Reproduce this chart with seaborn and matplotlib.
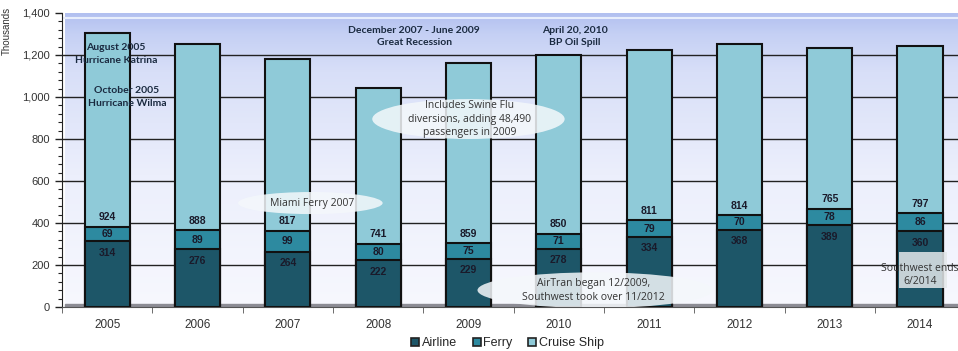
import numpy as np
import pandas as pd
import matplotlib.pyplot as plt
import seaborn as sns
from matplotlib.patches import Ellipse, Rectangle
from matplotlib.colors import LinearSegmentedColormap
from matplotlib.lines import Line2D

years = ["2005", "2006", "2007", "2008", "2009", "2010", "2011", "2012", "2013", "2014"]
airline = [314, 276, 264, 222, 229, 278, 334, 368, 389, 360]
ferry = [69, 89, 99, 80, 75, 71, 79, 70, 78, 86]
cruise = [924, 888, 817, 741, 859, 850, 811, 814, 765, 797]

c_air, c_ferry, c_cruise = "#1d5668", "#2d8aa0", "#8fcad8"

df = pd.DataFrame({"year": years, "airline": airline, "ferry": ferry, "cruise": cruise})
df["af"] = df["airline"] + df["ferry"]
df["total"] = df["af"] + df["cruise"]

sns.set_style("white")
plt.rcParams["font.family"] = ["Liberation Sans", "DejaVu Sans"]

fig = plt.figure(figsize=(9.58, 3.51), dpi=100)
ax = fig.add_axes([62 / 958, 1 - 307 / 351, 1 - 62 / 958, 294 / 351])

# background gradient, light at the floor and bluer near the top
grad = np.linspace(0, 1, 512).reshape(-1, 1)
cmap = LinearSegmentedColormap.from_list(
    "bg", [(0, "#f7f8fe"), (0.45, "#eceffc"), (0.8, "#d8dff8"), (0.93, "#c5d0f4"), (1, "#b2c0f0")])
ax.imshow(grad, aspect="auto", cmap=cmap, origin="lower",
          extent=[-0.47, 9.42, 0, 1400], zorder=0)
ax.axhline(1378, color="#e8eefc", lw=1.5, zorder=0.5)
ax.add_patch(Rectangle((-0.47, 0), 9.89, 16, color="#8c8c94", zorder=0.6))

for y in range(200, 1400, 200):
    ax.axhline(y, color="#222222", lw=1.0, zorder=1)

sns.barplot(data=df, x="year", y="total", color=c_cruise, saturation=1,
            width=0.5, edgecolor="#111111", linewidth=1.5, ax=ax, zorder=2)
sns.barplot(data=df, x="year", y="af", color=c_ferry, saturation=1,
            width=0.5, edgecolor="#111111", linewidth=1.5, ax=ax, zorder=3)
sns.barplot(data=df, x="year", y="airline", color=c_air, saturation=1,
            width=0.5, edgecolor="#111111", linewidth=1.5, ax=ax, zorder=4)

lab = dict(ha="center", va="center", fontsize=7.5, fontweight="bold", color="#1a1a2a", zorder=6)
for i, r in df.iterrows():
    ax.text(i, r["airline"] - 55, str(r["airline"]), **lab)
    ax.text(i, r["airline"] + r["ferry"] / 2, str(r["ferry"]), **lab)
    ax.text(i, r["af"] + 45, str(r["cruise"]), **lab)

ax.set_xlim(-0.47, 9.42)
ax.set_ylim(0, 1400)
ax.set_yticks(range(0, 1401, 200))
ax.set_yticklabels([f"{v:,}" for v in range(0, 1401, 200)], fontsize=8, color="#333333")
ax.set_yticks(range(0, 1401, 40), minor=True)
ax.tick_params(axis="y", which="major", length=5, width=1, color="#222222", left=True)
ax.tick_params(axis="y", which="minor", length=3, width=0.8, color="#222222", left=True)
ax.set_xticks(range(len(years)))
ax.set_xticklabels(years, fontsize=8.5, color="#333333")
ax.set_xticks(np.arange(-0.5, 9.5, 1), minor=True)
ax.tick_params(axis="x", which="minor", length=4, color="#555555", bottom=True)
ax.tick_params(axis="x", which="major", length=0, pad=9)
ax.set_xlabel("")
ax.set_ylabel("Thousands", fontsize=7, color="#333333")
ax.yaxis.set_label_coords(-0.056, 0.94)
for s in ["top", "right"]:
    ax.spines[s].set_visible(False)
ax.spines["left"].set_color("#222222")
ax.spines["bottom"].set_color("#555555")

# event notes
note = dict(ha="center", va="center", fontsize=7.5, fontweight="bold",
            color="#1a2a40", family=["Lato", "DejaVu Sans"], linespacing=1.5, zorder=7)
ax.text(0.1, 1205, "August 2005\nHurricane Katrina", **note)
ax.text(0.22, 1000, "October 2005\nHurricane Wilma", **note)
ax.text(3.4, 1288, "December 2007 - June 2009\nGreat Recession", **note)
ax.text(5.18, 1288, "April 20, 2010\nBP Oil Spill", **note)

# callout bubbles
bubble = dict(facecolor="#f4f8fb", edgecolor="none", alpha=0.85, zorder=5)
soft = dict(ha="center", va="center", fontsize=7.5, color="#333333",
            family=["Open Sans", "DejaVu Sans"], linespacing=1.3, zorder=8)
ax.add_patch(Ellipse((4.0, 895), 2.13, 190, **bubble))
ax.text(4.01, 895, "Includes Swine Flu\ndiversions, adding 48,490\npassengers in 2009", **soft)
ax.add_patch(Ellipse((2.25, 495), 1.6, 105, **bubble))
ax.text(2.27, 495, "Miami Ferry 2007", **soft)
ax.add_patch(Ellipse((5.4, 80), 2.6, 170, **bubble))
ax.text(5.38, 78, "AirTran began 12/2009,\nSouthwest took over 11/2012", **soft)
ax.add_patch(Rectangle((8.77, 90), 0.53, 172, facecolor="#e4e8ea", edgecolor="none",
                       alpha=0.85, zorder=5))
ax.text(9.0, 152, "Southwest ends\n6/2014", **soft)

handles = [Line2D([], [], marker="s", ls="", markersize=6, markerfacecolor=c,
                  markeredgecolor="#222222", markeredgewidth=1.2) for c in [c_air, c_ferry, c_cruise]]
fig.legend(handles, ["Airline", "Ferry", "Cruise Ship"], loc="center",
           bbox_to_anchor=(0.527, 1 - 343 / 351), ncol=3, frameon=False,
           fontsize=9, handletextpad=-0.2, columnspacing=0.8, handlelength=1.5)

plt.savefig("out.png", dpi=100)
